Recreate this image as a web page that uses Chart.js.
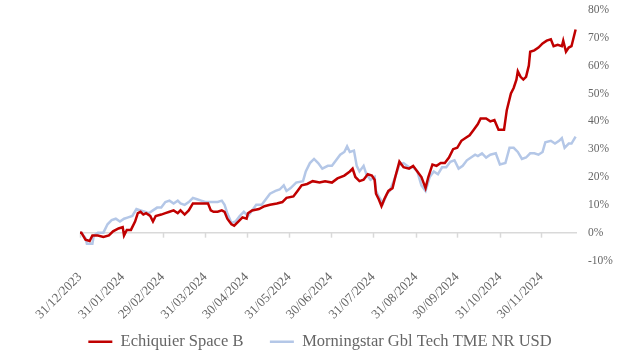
<!DOCTYPE html>
<html>
<head>
<meta charset="utf-8">
<script src="https://cdn.jsdelivr.net/npm/chart.js@4.4.1/dist/chart.umd.min.js"></script>
<style>
  html, body { margin: 0; padding: 0; background: #fff; }
  #wrap { width: 640px; height: 360px; }
</style>
</head>
<body>
<div id="wrap"><canvas id="myChart"></canvas></div>
<script>
// days since 31/12/2023 for the month-end ticks
let monthDays = [0, 31, 60, 91, 121, 152, 182, 213, 244, 274, 305, 335];
let monthLabels = ["31/12/2023", "31/01/2024", "29/02/2024", "31/03/2024", "30/04/2024", "31/05/2024",
  "30/06/2024", "31/07/2024", "31/08/2024", "30/09/2024", "31/10/2024", "30/11/2024"];

// Echiquier Space B (cumulative %)
let spaceDays = [0, 1, 4, 7, 9, 13, 17, 21, 24, 28, 31, 32, 34, 37, 40, 42, 44, 46, 48, 51, 53, 55, 59, 62, 65,
  68, 71, 73, 76, 79, 82, 88, 93, 95, 97, 100, 103, 105, 107, 110, 112, 115, 118, 121, 122, 125, 130, 134,
  138, 143, 147, 150, 155, 158, 161, 165, 169, 174, 178, 183, 187, 192, 196, 198, 200, 203, 206, 209, 212,
  214, 215, 217, 219, 221, 224, 227, 229, 232, 235, 239, 242, 245, 248, 251, 253, 256, 259, 262, 265, 268,
  271, 274, 277, 280, 283, 286, 289, 291, 295, 298, 301, 304, 308, 310, 313, 315, 317, 318, 320, 322, 324,
  326, 327, 330, 333, 336, 339, 342, 344, 347, 350, 351, 353, 355, 357, 360];
let spaceValues = [0, 0, -2.5, -3, -1, -1, -1.5, -1, 0.5, 1.5, 2, -1, 1, 1, 4, 7, 7.5, 6.5, 7, 6, 4, 6, 6.5, 7, 7.5,
  8, 7, 8, 6.5, 8, 10.5, 10.5, 10.5, 8, 7.5, 7.5, 8, 7.5, 5, 3, 2.5, 4, 5.5, 5, 7, 8, 8.5, 9.5,
  10, 10.5, 11, 12.5, 13, 15, 17, 17.5, 18.5, 18, 18.5, 18, 19.5, 20.5, 22, 23, 20, 18.5, 19, 21, 20.5,
  19, 14, 12, 9.5, 12, 15, 16, 20, 25.5, 23.5, 23, 24, 22, 20, 16, 20, 24.5, 24, 25, 25, 27,
  30, 30.5, 33, 34, 35, 37, 39, 41, 41, 40, 40.5, 37, 37, 44, 50, 52, 55, 58, 56, 55, 56,
  60, 65, 65.5, 66.5, 68, 69, 69.5, 67, 67.5, 67, 69, 65, 66.5, 67, 73];

// Morningstar Gbl Tech TME NR USD
let benchDays = [0, 1, 4, 5, 9, 10, 13, 17, 20, 23, 26, 29, 32, 35, 38, 41, 44, 47, 50, 53, 56, 59, 62, 65, 68,
  71, 73, 76, 79, 82, 85, 88, 91, 96, 100, 103, 105, 107, 110, 113, 116, 119, 122, 125, 128, 132, 135, 138,
  142, 145, 148, 150, 153, 157, 162, 164, 167, 170, 173, 176, 180, 183, 186, 189, 192, 194, 196, 199, 201,
  203, 206, 208, 211, 214, 215, 217, 220, 223, 225, 229, 232, 235, 239, 242, 245, 248, 251, 254, 257, 260,
  263, 266, 269, 272, 275, 278, 281, 284, 287, 289, 292, 295, 298, 302, 305, 309, 312, 315, 318, 321, 324,
  327, 330, 333, 336, 338, 342, 345, 348, 350, 352, 355, 357, 360];
let benchValues = [0, 0, -2, -4, -4, -1, 0, 0, 3, 4.5, 5, 4, 5, 5.5, 6, 8.5, 8, 7.5, 7, 8, 9, 9, 11, 11.5, 10.5,
  11.5, 10.5, 10, 11, 12.5, 12, 11.5, 11, 11, 11, 11.5, 10, 7, 3.5, 4, 6, 7.5, 6, 8, 10, 10, 12, 14,
  15, 15.5, 17, 15, 16, 18, 18.5, 22, 25, 26.5, 25, 23, 24, 24, 26, 28, 29, 31, 29, 29.5, 24,
  22, 24, 21, 19, 20, 15, 13, 10.5, 14, 15, 20, 24.5, 25, 23.5, 23.5, 22, 17, 15, 20, 22, 21,
  23.5, 23.5, 25.5, 26, 23, 24, 26, 27, 28, 27.5, 28.5, 27, 28, 28.5, 24.5, 25, 30.5, 30.5, 29, 26.5, 27,
  28.5, 28.5, 28, 29, 32.5, 33, 32, 33, 34, 30.5, 32, 32, 34.5];

let spaceColor = "#C00000";
let benchColor = "#B4C7E7";
let textColor = "#666666";
let fontFamily = "'Liberation Serif', 'DejaVu Serif', serif";

function toPoints(days, values) {
  return days.map((d, i) => ({ x: d, y: values[i] }));
}

// small tick marks hanging under the 0% line
let zeroTicks = {
  id: "zeroTicks",
  beforeDatasetsDraw(chart) {
    let xs = chart.scales.x;
    let y0 = chart.scales.y.getPixelForValue(0);
    let c = chart.ctx;
    c.save();
    c.strokeStyle = "#D9D9D9";
    c.lineWidth = 1.5;
    xs.ticks.forEach((t) => {
      let px = Math.round(xs.getPixelForValue(t.value)) + 0.5;
      c.beginPath();
      c.moveTo(px, y0);
      c.lineTo(px, y0 + 5);
      c.stroke();
    });
    c.restore();
  },
};

let ctx = document.getElementById("myChart").getContext("2d");

let myChart = new Chart(ctx, {
  type: "line",
  data: {
    datasets: [
      {
        label: "Echiquier Space B",
        data: toPoints(spaceDays, spaceValues),
        borderColor: spaceColor,
        backgroundColor: spaceColor,
        borderWidth: 2.5,
        pointRadius: 0,
        tension: 0,
        order: 1,
      },
      {
        label: "Morningstar Gbl Tech TME NR USD",
        data: toPoints(benchDays, benchValues),
        borderColor: benchColor,
        backgroundColor: benchColor,
        borderWidth: 2.5,
        pointRadius: 0,
        tension: 0,
        order: 2,
      },
    ],
  },
  options: {
    responsive: true,
    maintainAspectRatio: false,
    animation: false,
    layout: { padding: 0 },
    scales: {
      x: {
        type: "linear",
        min: 0,
        max: 361,
        grid: { display: false },
        border: { display: false },
        afterBuildTicks: (scale) => {
          scale.ticks = monthDays.map((v) => ({ value: v }));
        },
        afterFit: (s) => { s.height = 63; },
        ticks: {
          autoSkip: false,
          minRotation: 45,
          maxRotation: 45,
          padding: 1,
          color: textColor,
          font: { family: fontFamily, size: 13 },
          callback: (value, index) => monthLabels[index],
        },
      },
      // empty left axis, only reserves room so the plot starts where the original does
      yLeft: {
        position: "left",
        display: true,
        grid: { display: false },
        border: { display: false },
        ticks: { display: false },
        afterFit: (s) => { s.width = 80; },
      },
      y: {
        position: "right",
        min: -10,
        max: 80,
        afterFit: (s) => {
          s.width = 63;
          s.paddingTop = 10;
          s.paddingBottom = 0;
        },
        ticks: {
          stepSize: 10,
          padding: 11,
          color: textColor,
          font: { family: fontFamily, size: 11.5 },
          callback: (v) => v + "%",
        },
        grid: {
          drawTicks: false,
          lineWidth: 1.5,
          color: (c) => (c.tick && c.tick.value === 0 ? "#D9D9D9" : "rgba(0,0,0,0)"),
        },
        border: { display: false },
      },
    },
    plugins: {
      legend: {
        position: "bottom",
        labels: {
          color: textColor,
          font: { family: fontFamily, size: 16.5 },
          boxWidth: 24,
          boxHeight: 2.5,
          padding: 10,
          generateLabels: (chart) => {
            let items = Chart.defaults.plugins.legend.labels.generateLabels(chart);
            items.forEach((it, i) => {
              it.lineWidth = 0;
              if (i === 0) it.text = it.text + "\u2003";
            });
            return items;
          },
        },
      },
      tooltip: { enabled: false },
    },
  },
  plugins: [zeroTicks],
});
</script>
</body>
</html>
